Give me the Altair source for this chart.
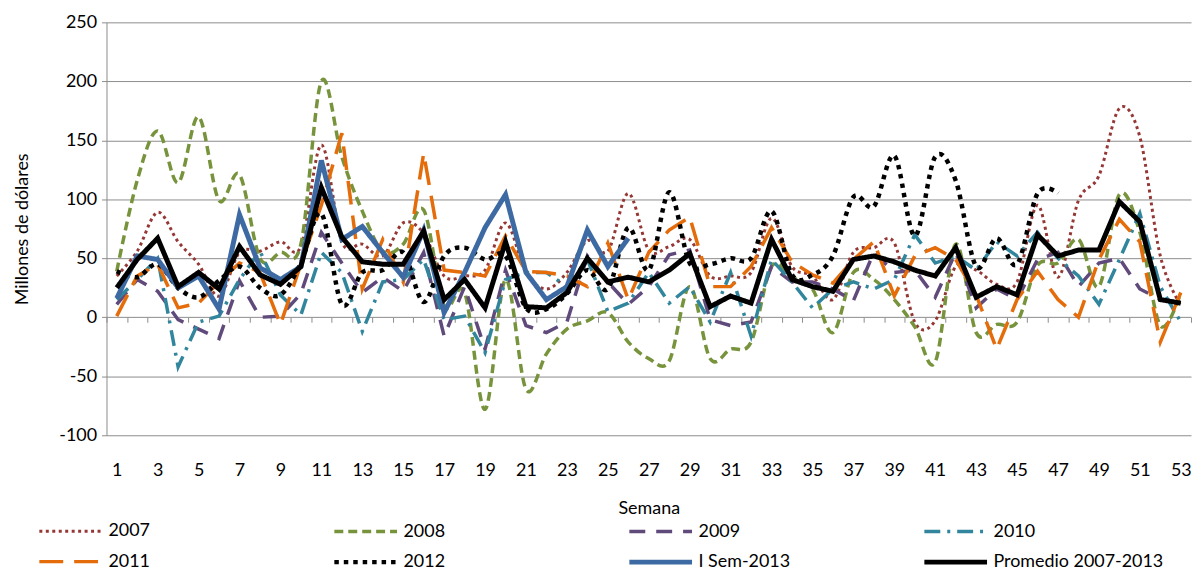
import altair as alt
import pandas as pd

weeks = list(range(1, 54))
series_names = ["2007", "2008", "2009", "2010", "2011", "2012", "I Sem-2013", "Promedio 2007-2013"]

v2007 = [35, 56, 89, 64, 45, 18, 55, 56, 64, 60, 146, 64, 62, 52, 80, 71, 35, 35, 40, 80,
         38, 24, 38, 65, 56, 105, 57, 60, 66, 35, 35, 38, 84, 43, 35, 15, 55, 59, 63, -4,
         -3, 43, 40, 28, 30, 95, 34, 99, 120, 177, 153, 52, 10]
v2008 = [39, 116, 158, 114, 170, 99, 121, 50, 55, 62, 200, 136, 90, 56, 62, 91, 10, 21, -78, 32,
         -61, -31, -10, -3, 4, -21, -35, -37, 26, -35, -27, -21, 43, 34, 24, -13, 38, 32, 15, -8,
         -38, 62, -13, -6, -4, 44, 46, 66, 26, 104, 72, -7, 21]
v2009 = [11, 32, 22, -2, -10, -18, 31, 0, 1, 20, 72, 46, 21, 34, 22, 55, -16, 26, -27, 40,
         -7, -13, -4, 52, 30, 11, 26, 53, 57, -2, -7, -4, 43, 30, 30, 24, 14, 55, 38, 40,
         17, 55, 8, 24, 15, 49, 55, 26, 46, 50, 24, 15, 13]
v2010 = [15, 32, 50, -42, -4, 1, 32, 56, 19, 2, 55, 38, -12, 30, 32, 49, -2, 1, -30, 32,
         38, 38, 26, 49, 5, 12, 38, 12, 26, -4, 38, -16, 49, 30, 8, 24, 30, 24, 32, 70,
         46, 52, 40, 64, 52, 72, 50, 35, 11, 49, 88, 26, -4]
v2011 = [1, 35, 45, 8, 12, 30, 46, 38, -6, 45, 95, 156, 24, 66, 30, 139, 40, 38, 35, 69,
         39, 38, 35, 26, 63, 15, 55, 74, 85, 26, 26, 43, 76, 47, 36, 29, 49, 64, 18, 52,
         59, 49, 19, -27, 15, 39, 15, 0, 49, 83, 64, -21, 21]
v2012 = [39, 34, 45, 25, 17, 31, 43, 25, 19, 46, 88, 11, 38, 40, 55, 13, 52, 59, 49, 52,
         8, 7, 20, 40, 24, 76, 40, 106, 46, 45, 50, 50, 90, 36, 36, 52, 102, 94, 137, 69,
         136, 116, 43, 67, 45, 105, 105]
v2013 = [16, 52, 49, 25, 35, 7, 87, 42, 32, 43, 133, 66, 77, 55, 34, 74, 4, 38, 76, 104,
         38, 15, 26, 74, 43, 67]
vprom = [25, 49, 67, 26, 38, 24, 60, 36, 28, 43, 110, 68, 47, 45, 45, 73, 15, 32, 8, 64,
         9, 8, 21, 50, 30, 34, 30, 40, 54, 9, 18, 12, 66, 32, 26, 22, 49, 52, 47, 40,
         35, 59, 17, 26, 19, 70, 52, 57, 57, 98, 81, 15, 12]

y_ticks = [-100, -50, 0, 50, 100, 150, 200, 250]
x_labels = [w for w in weeks if w % 2 == 1]
tick_positions = [w - 0.5 for w in weeks] + [weeks[-1] + 0.5]

colors = ["#953735", "#77933C", "#604A7B", "#31859C", "#E46C0A", "#000000", "#3D6AA2", "#000000"]
dashes = [[3, 3.5], [9, 5], [16, 11], [16, 7, 3, 7], [24, 11], [4.5, 5], [1, 0], [1, 0]]
widths = [3, 3.5, 3.5, 3.5, 3.5, 4.5, 5, 5]

all_values = [v2007, v2008, v2009, v2010, v2011, v2012, v2013, vprom]
rows = []
for name, vals in zip(series_names, all_values):
    for w, v in zip(weeks, vals):
        rows.append({"semana": w, "valor": v, "serie": name})
df = pd.DataFrame(rows)
ticks_df = pd.DataFrame({"pos": tick_positions})

W, H = 1090, 415
FONT = "Lato"
GRID = "#8c8c8c"

x_scale = alt.Scale(domain=[0.5, 53.5], nice=False, zero=False)
y_scale = alt.Scale(domain=[-100, 250], nice=False, zero=False)

# legend sample: a line 6 units long drawn from the symbol's left edge; the
# layout size stays that of a 21 px symbol, so rows can sit close together
leg = alt.Legend(
    title=None, orient="none", legendX=-70, legendY=498.5, direction="horizontal",
    columns=4, gridAlign="all", columnPadding=45.5, rowPadding=8,
    symbolType="M-1,0L5,0", symbolSize=441, labelFont=FONT, labelFontSize=18,
    labelColor="black", labelOffset=46, labelLimit=400, padding=0,
)

base = alt.Chart(df).encode(
    x=alt.X("semana:Q", scale=x_scale,
            axis=alt.Axis(values=x_labels, ticks=False, domain=False, grid=False,
                          labelPadding=26, labelFont=FONT, labelFontSize=18, labelColor="black",
                          title="Semana", titleFont=FONT, titleFontSize=18,
                          titleFontWeight="normal", titleColor="black", titlePadding=21)),
    y=alt.Y("valor:Q", scale=y_scale,
            axis=alt.Axis(values=y_ticks, grid=True, gridColor=GRID, gridWidth=1,
                          domain=True, domainColor=GRID, ticks=True, tickColor=GRID, tickSize=5,
                          labelPadding=5, labelFont=FONT, labelFontSize=18, labelColor="black",
                          labelExpr="'' + datum.value",
                          title="Millones de dólares", titleFont=FONT, titleFontSize=18,
                          titleFontWeight="normal", titleColor="black", titlePadding=27)),
    color=alt.Color("serie:N", scale=alt.Scale(domain=series_names, range=colors), legend=leg),
    strokeDash=alt.StrokeDash("serie:N", scale=alt.Scale(domain=series_names, range=dashes), legend=leg),
    strokeWidth=alt.StrokeWidth("serie:N", scale=alt.Scale(type="ordinal", domain=series_names, range=widths), legend=leg),
)

def sel(names):
    return alt.FieldOneOfPredicate(field="serie", oneOf=names)

smooth_a = base.transform_filter(sel(["2007", "2008"])).mark_line(interpolate="cardinal", strokeCap="butt")
straight = base.transform_filter(sel(["2009", "2010", "2011"])).mark_line(strokeCap="butt")
smooth_b = base.transform_filter(sel(["2012"])).mark_line(interpolate="cardinal", strokeCap="butt")
solid = base.transform_filter(sel(["I Sem-2013", "Promedio 2007-2013"])).mark_line(strokeCap="butt", strokeJoin="miter")

lines = alt.layer(smooth_a, straight, smooth_b, solid)

zero_offset = -H * 100 / 350
tick_layer = alt.Chart(ticks_df).mark_rule(opacity=0).encode(
    x=alt.X("pos:Q", scale=x_scale,
            axis=alt.Axis(values=tick_positions, orient="bottom", offset=zero_offset,
                          labels=False, domain=False, grid=False, ticks=True,
                          tickSize=5, tickColor=GRID, tickWidth=1, title=None)),
)

chart = alt.layer(lines, tick_layer).resolve_axis(
    x="independent"
).properties(
    width=W, height=H,
    autosize=alt.AutoSizeParams(type="none"),
    padding={"left": 99, "top": 13, "right": 2, "bottom": 137},
    background="white",
).configure_view(stroke=None)

chart.save("out.html", embed_options={"renderer": "svg", "actions": False})
